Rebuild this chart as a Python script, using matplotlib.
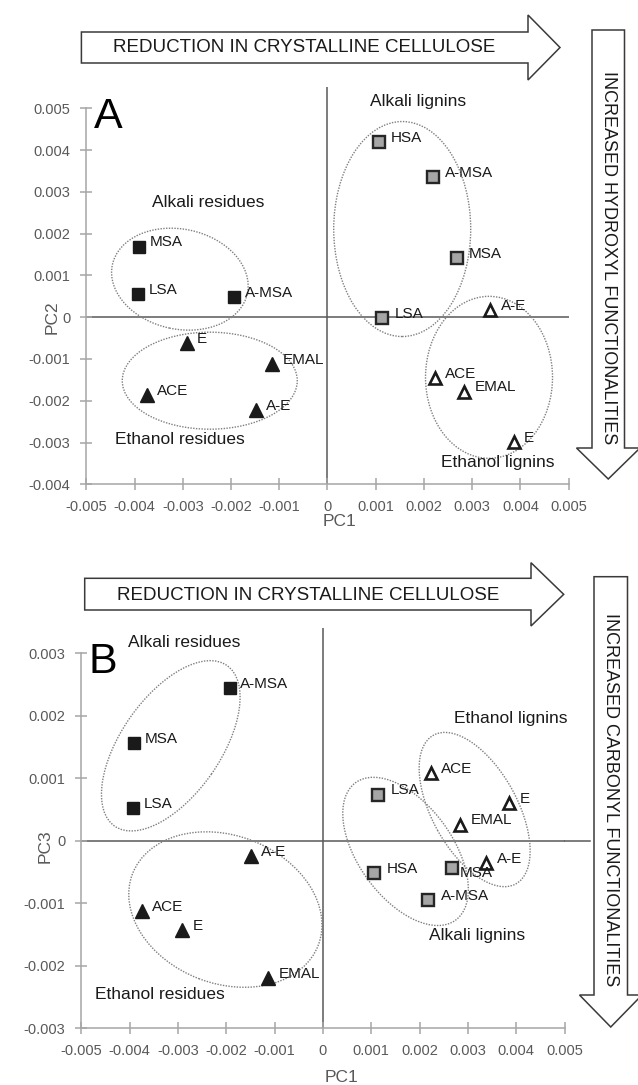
import numpy as np
import matplotlib
matplotlib.use("Agg")
import matplotlib.pyplot as plt
from matplotlib.patches import Ellipse, Polygon
from matplotlib.transforms import Affine2D, ScaledTranslation

plt.rcParams['font.family'] = ['Liberation Sans', 'DejaVu Sans']

# ---- data ----
alk_res_names = ['MSA', 'LSA', 'A-MSA']
eth_res_names = ['E', 'EMAL', 'ACE', 'A-E']
alk_lig_names = ['HSA', 'A-MSA', 'MSA', 'LSA']
eth_lig_names = ['A-E', 'ACE', 'EMAL', 'E']

# PC1 (same in both panels)
alk_res_pc1 = [-0.00391, -0.00393, -0.00193]
eth_res_pc1 = [-0.00292, -0.00114, -0.00375, -0.00149]
alk_lig_pc1 = [0.00106, 0.00218, 0.00268, 0.00114]
eth_lig_pc1 = [0.00338, 0.00223, 0.00284, 0.00386]

# PC2 (panel A)
alk_res_pc2 = [0.00169, 0.00056, 0.00049]
eth_res_pc2 = [-0.00061, -0.00112, -0.00186, -0.00222]
alk_lig_pc2 = [0.00420, 0.00336, 0.00141, -0.00002]
eth_lig_pc2 = [0.00017, -0.00146, -0.00178, -0.00298]

# PC3 (panel B)
alk_res_pc3 = [0.00156, 0.00052, 0.00244]
eth_res_pc3 = [-0.00143, -0.00220, -0.00113, -0.00024]
alk_lig_pc3 = [-0.00052, -0.00095, -0.00044, 0.00074]
eth_lig_pc3 = [-0.00035, 0.00109, 0.00026, 0.00061]

x_ticks = np.arange(-5, 6) / 1000
pc2_ticks = np.arange(-4, 6) / 1000
pc3_ticks = np.arange(-3, 4) / 1000

W, H = 638, 1085
fig = plt.figure(figsize=(W / 100, H / 100), dpi=100)
px = Affine2D().scale(1 / W, -1 / H).translate(0, 1) + fig.transFigure

GRAY_AX = '#a6a6a6'
GRAY_TXT = '#595959'
ZERO = '#595959'


def fmt(v):
    if abs(v) < 1e-9:
        return '0'
    return ('%.3f' % v)


def add_ellipse(ax, cx, cy, w, h, ang):
    tr = fig.dpi_scale_trans + ScaledTranslation(cx, cy, ax.transData)
    e = Ellipse((0, 0), w / 100, h / 100, angle=ang, transform=tr,
                fill=False, edgecolor='#7f7f7f', lw=1.0, ls=(0, (1, 1)), zorder=2)
    ax.add_patch(e)


def draw_panel(ax, ys, yticks, ytop, ellipses, groups, letter, special=None):
    special = special or {}
    ax.set_xlim(-0.005, 0.005)
    ax.set_ylim(yticks[0], ytop)
    ax.set_xticks(x_ticks)
    ax.set_yticks(yticks)
    ax.set_xticklabels([fmt(v) for v in x_ticks])
    ax.set_yticklabels([fmt(v) for v in yticks])
    for s in ['top', 'right']:
        ax.spines[s].set_visible(False)
    for s in ['left', 'bottom']:
        ax.spines[s].set_color(GRAY_AX)
        ax.spines[s].set_linewidth(1.1)
    ax.spines['left'].set_bounds(yticks[0], yticks[-1])
    ax.tick_params(direction='inout', length=9, width=1.1, color=GRAY_AX,
                   labelsize=10.5, labelcolor=GRAY_TXT, pad=7)
    ax.patch.set_alpha(0)

    ax.axvline(0, color=ZERO, lw=1.1, zorder=1)
    ax.axhline(0, 0, 1.0, color=ZERO, lw=1.1, zorder=1)

    for e in ellipses:
        add_ellipse(ax, *e)

    series = [
        (alk_res_pc1, ys[0], alk_res_names, dict(marker='s', ms=8, mfc='#1a1a1a', mec='#1a1a1a', mew=1), 'ar'),
        (eth_res_pc1, ys[1], eth_res_names, dict(marker='^', ms=9.5, mfc='#1a1a1a', mec='#1a1a1a', mew=1), 'er'),
        (alk_lig_pc1, ys[2], alk_lig_names, dict(marker='s', ms=8.5, mfc='#a6a6a6', mec='#262626', mew=1.7), 'al'),
        (eth_lig_pc1, ys[3], eth_lig_names, dict(marker='^', ms=9, mfc='white', mec='#1a1a1a', mew=1.9), 'el'),
    ]
    for xs, yv, names, st, key in series:
        ax.plot(xs, yv, ls='none', zorder=4, **st)
        for x, y, n in zip(xs, yv, names):
            off = special.get((key, n), (7.5 if key != 'al' else 9, 3))
            ax.annotate(n, (x, y), xytext=off, textcoords='offset points',
                        ha='left', va='center', fontsize=11, color='#1a1a1a', zorder=5)

    for txt, x, y in groups:
        ax.text(x, y, txt, ha='center', va='center', fontsize=12.5, color='#1a1a1a')

    ax.text(letter[1], letter[2], letter[0], transform=px, ha='left', va='baseline',
            fontsize=31, color='black')


# ---- panel A ----
axA = fig.add_axes([86.3 / W, 1 - 484.3 / H, 482.3 / W, 396.9 / H])
ellA = [(-0.00306, 0.00091, 138, 100, -12),
        (-0.00244, -0.00152, 175, 97, 0),
        (0.00155, 0.00211, 137, 215, 0),
        (0.00335, -0.00144, 127, 162, 0)]
grpA = [('Alkali residues', -0.00247, 0.00275),
        ('Alkali lignins', 0.00187, 0.00516),
        ('Ethanol residues', -0.00307, -0.00292),
        ('Ethanol lignins', 0.00353, -0.00349)]
draw_panel(axA, [alk_res_pc2, eth_res_pc2, alk_lig_pc2, eth_lig_pc2],
           pc2_ticks, 0.0055, ellA, grpA, ('A', 94.4, 128.3))

# ---- panel B ----
axB = fig.add_axes([81.4 / W, 1 - 1028.3 / H, 483.1 / W, 400.0 / H])
ellB = [(-0.00315, 0.00152, 196, 99, 55),
        (-0.00202, -0.00110, 199, 148, -21),
        (0.00171, -0.00017, 170, 94, -54),
        (0.00314, 0.00050, 170, 85, -61)]
grpB = [('Alkali residues', -0.00287, 0.00317),
        ('Ethanol residues', -0.00337, -0.00246),
        ('Ethanol lignins', 0.00389, 0.00196),
        ('Alkali lignins', 0.00319, -0.00152)]
draw_panel(axB, [alk_res_pc3, eth_res_pc3, alk_lig_pc3, eth_lig_pc3],
           pc3_ticks, 0.0034, ellB, grpB, ('B', 88.3, 673.3),
           special={('al', 'MSA'): (5, -3.5)})
axB.axhline(0, 1.0, 1.053, color=ZERO, lw=1.1, zorder=1, clip_on=False)

# axis titles
fig.text(340, 521, 'PC1', transform=px, ha='center', va='center', fontsize=12.5, color=GRAY_TXT)
fig.text(52, 317, 'PC2', transform=px, ha='center', va='center', rotation=90, fontsize=12.5, color=GRAY_TXT)
fig.text(342, 1077, 'PC1', transform=px, ha='center', va='center', fontsize=12.5, color=GRAY_TXT)
fig.text(45, 846, 'PC3', transform=px, ha='center', va='center', rotation=90, fontsize=12.5, color=GRAY_TXT)

# ---- block arrows (pixel layout) ----
def right_arrow(x0, x1, y0, y1, hy0, hy1, tip):
    ym = (hy0 + hy1) / 2
    return [(x0, y0), (x1, y0), (x1, hy0), (tip, ym), (x1, hy1), (x1, y1), (x0, y1)]


def down_arrow(x0, x1, y0, y1, hx0, hx1, tip):
    xm = (hx0 + hx1) / 2
    return [(x0, y0), (x1, y0), (x1, y1), (hx1, y1), (xm, tip), (hx0, y1), (x0, y1)]


arrows = [right_arrow(81.4, 528, 32, 63, 15, 80, 560),
          down_arrow(592, 624.5, 30, 448, 576.5, 640, 479),
          right_arrow(84.7, 531, 578.3, 610, 562.7, 626, 563.7),
          down_arrow(594, 627.5, 576.7, 995, 579.5, 642, 1027)]
for pts in arrows:
    fig.add_artist(Polygon(pts, closed=True, transform=px, facecolor='white',
                           edgecolor='#3a3a3a', lw=1.1))

fig.text(304, 48, 'REDUCTION IN CRYSTALLINE CELLULOSE', transform=px, ha='center',
         va='center', fontsize=13.5, color='#1a1a1a')
fig.text(308, 595, 'REDUCTION IN CRYSTALLINE CELLULOSE', transform=px, ha='center',
         va='center', fontsize=13.5, color='#1a1a1a')
fig.text(608, 258, 'INCREASED HYDROXYL FUNCTIONALITIES', transform=px, ha='center',
         va='center', rotation=-90, fontsize=13, color='#1a1a1a')
fig.text(611, 800, 'INCREASED CARBONYL FUNCTIONALITIES', transform=px, ha='center',
         va='center', rotation=-90, fontsize=13, color='#1a1a1a')

fig.savefig('out.png', dpi=100)
